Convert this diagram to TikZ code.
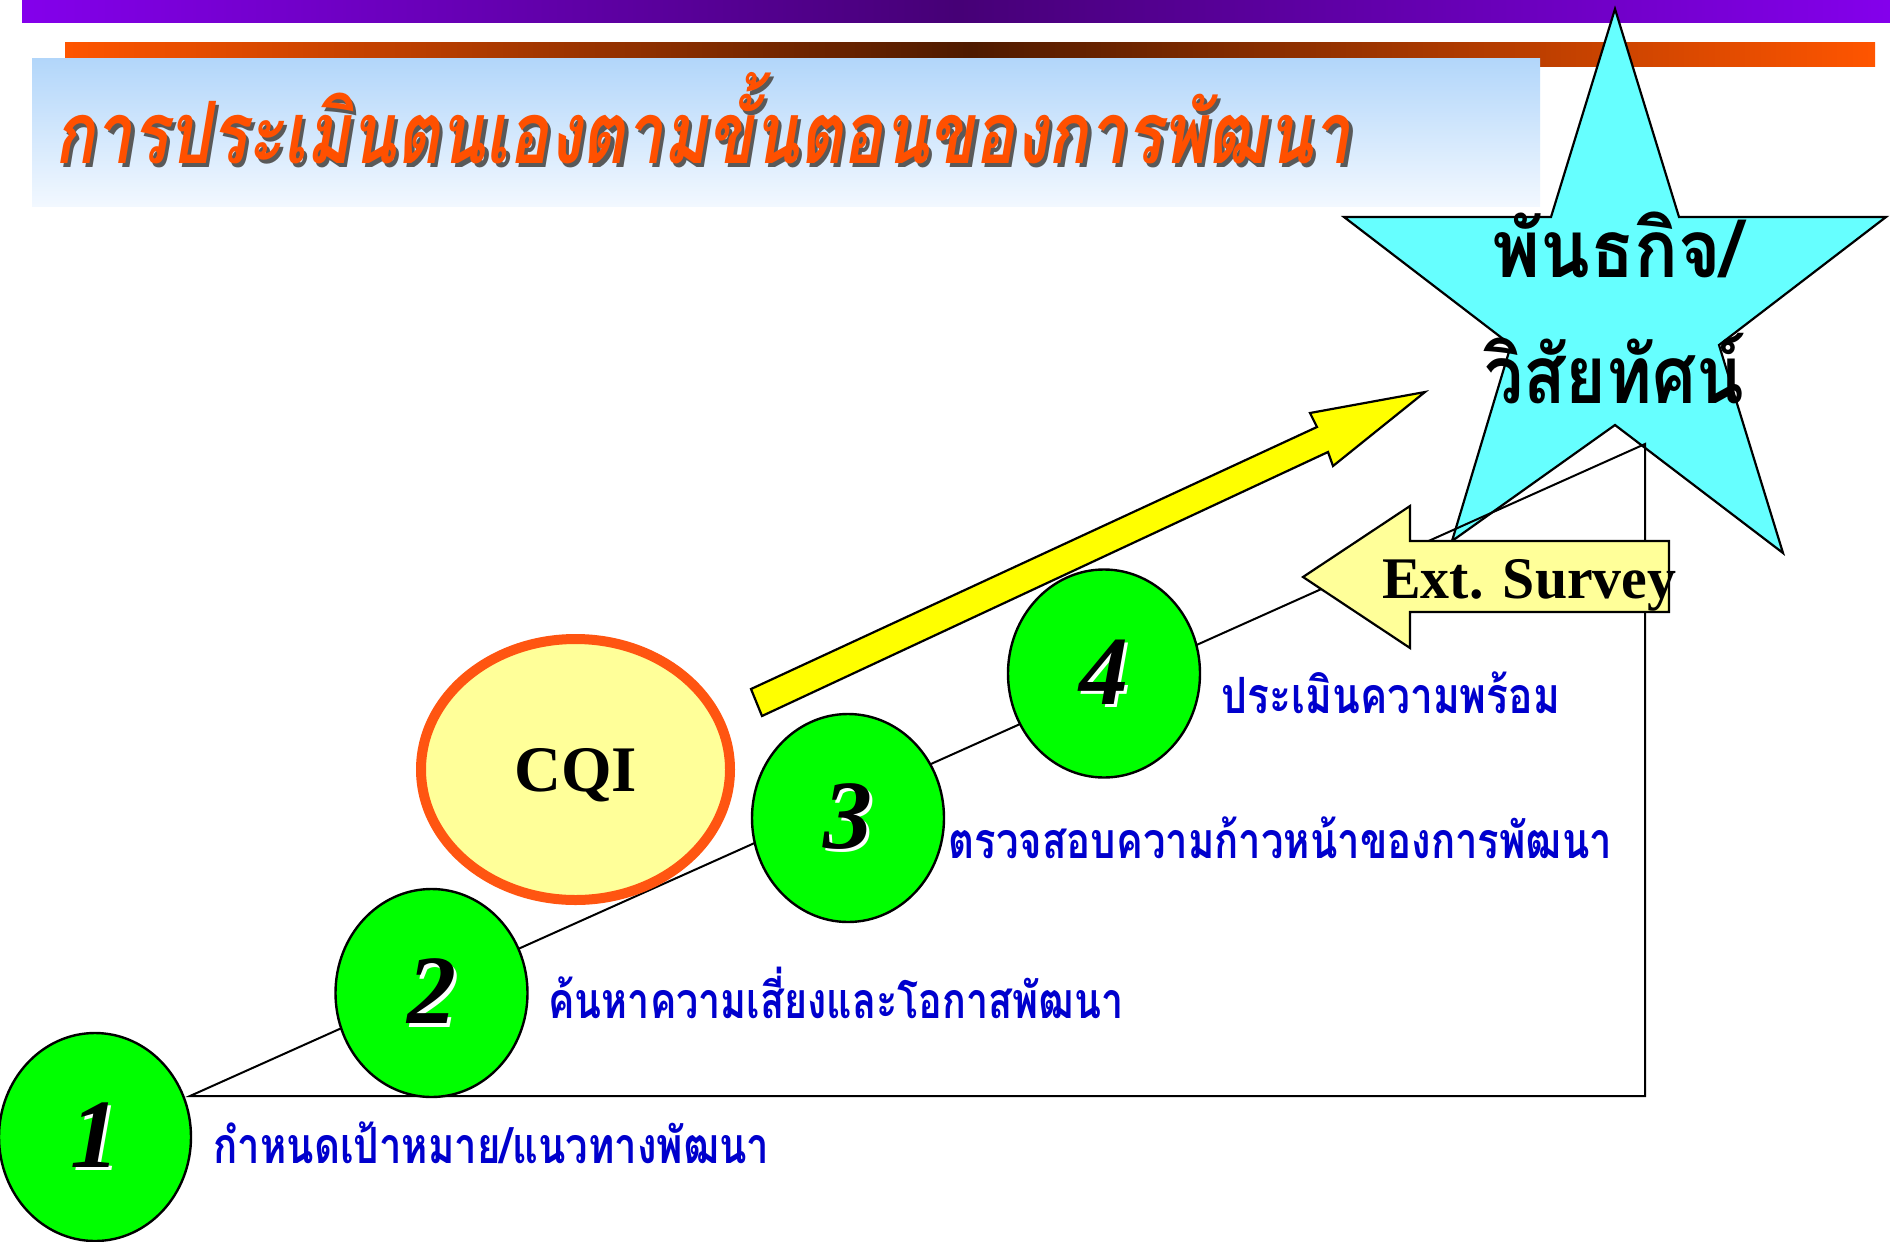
\documentclass[tikz,border=0pt]{standalone}
\usepackage{fontspec}
\usepackage{graphicx}
\setmainfont{Liberation Serif}
\newfontfamily\thai[Script=Thai]{Loma}
\usetikzlibrary{shapes.geometric}
\definecolor{purpL}{RGB}{132,0,236}
\definecolor{purpD}{RGB}{70,0,118}
\definecolor{orngL}{RGB}{255,85,0}
\definecolor{orngD}{RGB}{78,26,0}
\definecolor{boxT}{RGB}{178,214,250}
\definecolor{boxB}{RGB}{242,248,255}
\definecolor{titleor}{RGB}{255,80,0}
\definecolor{starcyan}{RGB}{102,255,255}
\definecolor{ballgreen}{RGB}{0,255,0}
\definecolor{cqiyel}{RGB}{255,255,153}
\definecolor{cqior}{RGB}{255,85,17}
\definecolor{extyel}{RGB}{255,255,153}
\definecolor{arrowyel}{RGB}{255,255,0}
\definecolor{labelblue}{RGB}{0,0,205}
\newcommand\glowtext[4]{\makebox[0pt][l]{\hspace*{#1}\raisebox{-#2}{\textcolor{#3}{#4}}}#4}
\begin{document}
\begin{tikzpicture}[x=0.5pt,y=-0.5pt,
  ball/.style={ellipse, draw=black, line width=1.2pt, fill=ballgreen,
    minimum width=96pt, minimum height=104pt, inner sep=0pt,
    font=\fontsize{49}{51}\selectfont\bfseries\itshape},
  steplabel/.style={anchor=base west, inner sep=0pt, text=labelblue,
    font=\thai\fontsize{25}{27}\selectfont\bfseries},
  startext/.style={anchor=base west, inner sep=0pt, text=black,
    font=\thai\fontsize{40}{42}\selectfont\bfseries},
  titletext/.style={anchor=base west, inner sep=0pt,
    font=\thai\fontsize{43}{45}\selectfont\bfseries\itshape},
  edge/.style={draw=black, line width=1pt},
  outline/.style={draw=black, line width=1.1pt, line join=miter}]
\useasboundingbox (0,0) rectangle (1890,1242);
\fill[white] (0,0) rectangle (1890,1242);
% bars and title box
\shade[left color=purpL, right color=purpL, middle color=purpD] (22,0) rectangle (1890,22);
\shade[left color=orngL, right color=orngL, middle color=orngD] (65,42) rectangle (1875,66);
\shade[top color=boxT, bottom color=boxB] (32,58) rectangle (1540,206);
\node[titletext, text=titleor] (title) at (54,163)
  {\resizebox{648pt}{\height}{\glowtext{2pt}{2pt}{black!65}{การประเมินตนเองตามขั้นตอนของการพัฒนา}}};
% star
\draw[outline, fill=starcyan] (1615,9) -- (1679,217) -- (1886,217) -- (1719,345)
  -- (1783,553) -- (1615,425) -- (1452,541) -- (1511,345) -- (1344,217)
  -- (1551,217) -- cycle;
% triangle of steps
\coordinate (A) at (190,1096);
\coordinate (B) at (1645,444);
\coordinate (C) at (1645,1096);
\draw[edge] (A) -- (B) -- (C) -- cycle;
% yellow arrow
\draw[outline, fill=arrowyel] (751,689) -- (1317,427) -- (1310,413) -- (1425,392)
  -- (1333,466) -- (1328,452) -- (762,716) -- cycle;
% Ext survey arrow
\draw[outline, fill=extyel] (1303,577) -- (1410,506) -- (1410,541) -- (1669,541)
  -- (1669,612) -- (1410,612) -- (1410,648) -- cycle;
\node[anchor=base west, inner sep=0pt, font=\fontsize{29.5}{31}\selectfont\bfseries] (ext)
  at (1382,598) {\resizebox{147pt}{\height}{Ext. Survey}};
% star text
\node[startext] (m1) at (1492,277) {\resizebox{125pt}{\height}{พันธกิจ/}};
\node[startext] (m2) at (1484,403) {\resizebox{130pt}{\height}{วิสัยทัศน์}};
% CQI
\node[ellipse, draw=cqior, line width=5pt, fill=cqiyel, minimum width=154.5pt,
  minimum height=130.5pt, inner sep=0pt, text depth=0pt,
  font=\fontsize{32.5}{34}\selectfont\bfseries] (cqi) at (575.5,769.5) {CQI};
% step balls
\node[ball] (c1) at (95,1137) {\glowtext{1.6pt}{1.6pt}{white}{1}};
\node[ball] (c2) at (431.5,993) {\glowtext{1.6pt}{1.6pt}{white}{2}};
\node[ball] (c3) at (848,818) {\glowtext{1.6pt}{1.6pt}{white}{3}};
\node[ball] (c4) at (1104,673.5) {\glowtext{1.6pt}{1.6pt}{white}{4}};
% step labels
\node[steplabel] (l1) at (213,1163) {\resizebox{278pt}{\height}{กำหนดเป้าหมาย/แนวทางพัฒนา}};
\node[steplabel] (l2) at (548,1018.5) {\resizebox{287.5pt}{\height}{ค้นหาความเสี่ยงและโอกาสพัฒนา}};
\node[steplabel] (l3) at (948.5,858) {\resizebox{331.5pt}{\height}{ตรวจสอบความก้าวหน้าของการพัฒนา}};
\node[steplabel] (l4) at (1221.5,713) {\resizebox{169pt}{\height}{ประเมินความพร้อม}};
\end{tikzpicture}
\end{document}
